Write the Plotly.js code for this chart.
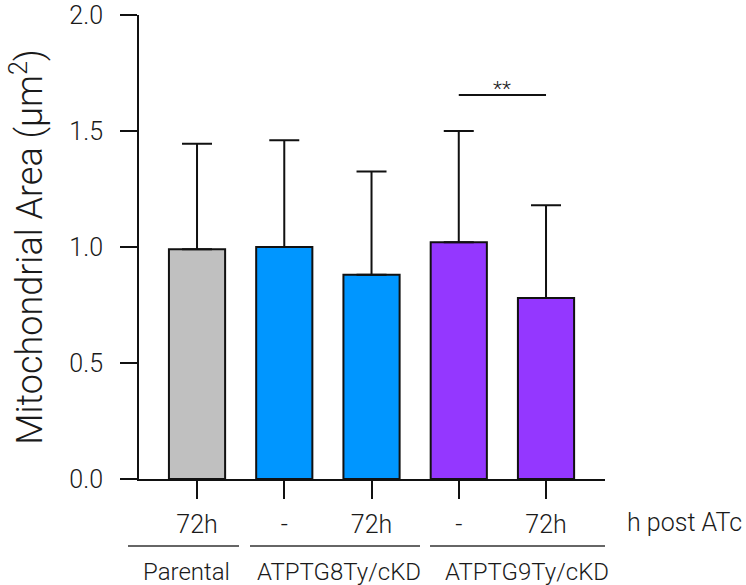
<!DOCTYPE html>
<html>
<head>
<meta charset="utf-8">
<script src="https://cdn.plot.ly/plotly-3.0.1.min.js"></script>
<style>html,body{margin:0;padding:0;background:#fff;}</style>
</head>
<body>
<div id="chart" style="width:746px;height:585px;"></div>
<script>
// Data
const categories = ["Parental 72h", "ATPTG8Ty/cKD -", "ATPTG8Ty/cKD 72h", "ATPTG9Ty/cKD -", "ATPTG9Ty/cKD 72h"];
const tickLabels = ["72h", "-", "72h", "-", "72h"];
const meanArea = [0.99, 1.00, 0.88, 1.02, 0.78];
const sdArea = [0.455, 0.46, 0.445, 0.48, 0.40];
const barColors = ["#C0C0C0", "#0096FF", "#0096FF", "#9437FF", "#9437FF"];
const groups = ["Parental", "ATPTG8Ty/cKD", "ATPTG9Ty/cKD"];
const yTicks = [0, 0.5, 1.0, 1.5, 2.0];
const sigPair = [3, 4];
const sigLabel = "**";
const sigLevel = 1.655;

const xIdx = categories.map((c, i) => i);
const FONT = "Roboto, Liberation Sans, Arial, sans-serif";
const TXT = "#1a1a1a";
const W = 300;

const trace = {
  type: "bar",
  x: xIdx,
  y: meanArea,
  width: 0.644,
  marker: { color: barColors, line: { color: "#111", width: 2 } },
  error_y: {
    type: "data", array: sdArea, arrayminus: sdArea.map(() => 0),
    symmetric: false, visible: true, color: "#111", thickness: 2, width: 15
  },
  hoverinfo: "skip",
  showlegend: false
};

const layout = {
  width: 746, height: 585,
  margin: { l: 139, r: 141, t: 15, b: 106 },
  paper_bgcolor: "#fff", plot_bgcolor: "#fff",
  font: { family: FONT, color: TXT, size: 24, weight: W },
  xaxis: {
    range: [-0.665, 4.676], tickvals: xIdx, ticktext: tickLabels,
    ticks: "outside", ticklen: 18, tickwidth: 2, tickcolor: "#111",
    showline: true, linewidth: 2, linecolor: "#111",
    showgrid: false, zeroline: false, fixedrange: true,
    ticklabelstandoff: 4,
    tickfont: { family: FONT, size: 25, color: TXT, weight: W }
  },
  yaxis: {
    range: [0, 2], tickvals: yTicks, tickformat: ".1f",
    ticks: "outside", ticklen: 17, tickwidth: 2, tickcolor: "#111",
    showline: true, linewidth: 2, linecolor: "#111",
    showgrid: false, zeroline: false, fixedrange: true,
    ticklabelstandoff: 12,
    tickfont: { family: FONT, size: 25, color: TXT, weight: W },
    title: { text: "Mitochondrial Area (μm<sup>2</sup>)", font: { family: FONT, size: 36, color: TXT, weight: W }, standoff: 16 }
  },
  shapes: [
    { type: "line", xref: "paper", yref: "paper", x0: -0.0236, x1: 0.2146, y0: -0.1444, y1: -0.1444, line: { color: "#333", width: 1.5 } },
    { type: "line", xref: "paper", yref: "paper", x0: 0.2382, x1: 0.6030, y0: -0.1444, y1: -0.1444, line: { color: "#333", width: 1.5 } },
    { type: "line", xref: "paper", yref: "paper", x0: 0.6245, x1: 1.0, y0: -0.1444, y1: -0.1444, line: { color: "#333", width: 1.5 } },
    { type: "line", xref: "x", yref: "y", x0: sigPair[0], x1: sigPair[1], y0: sigLevel, y1: sigLevel, line: { color: "#111", width: 2 } }
  ],
  annotations: [
    { xref: "paper", yref: "paper", x: 1.1706, y: -0.0927, text: "h post ATc", showarrow: false, xanchor: "center", yanchor: "middle", font: { family: FONT, size: 25, color: TXT, weight: W } },
    { xref: "paper", yref: "paper", x: 0.1009, y: -0.2004, text: groups[0], showarrow: false, xanchor: "center", yanchor: "middle", font: { family: FONT, size: 24, color: TXT, weight: W } },
    { xref: "paper", yref: "paper", x: 0.4292, y: -0.2004, text: groups[1], showarrow: false, xanchor: "center", yanchor: "middle", font: { family: FONT, size: 24, color: TXT, weight: W } },
    { xref: "paper", yref: "paper", x: 0.8326, y: -0.2004, text: groups[2], showarrow: false, xanchor: "center", yanchor: "middle", font: { family: FONT, size: 24, color: TXT, weight: W } },
    { xref: "x", yref: "y", x: (sigPair[0] + sigPair[1]) / 2, y: 1.68, text: sigLabel, showarrow: false, xanchor: "center", yanchor: "middle", font: { family: FONT, size: 21, color: TXT, weight: W } }
  ]
};

Plotly.newPlot("chart", [trace], layout, { staticPlot: true, displayModeBar: false });
</script>
</body>
</html>
